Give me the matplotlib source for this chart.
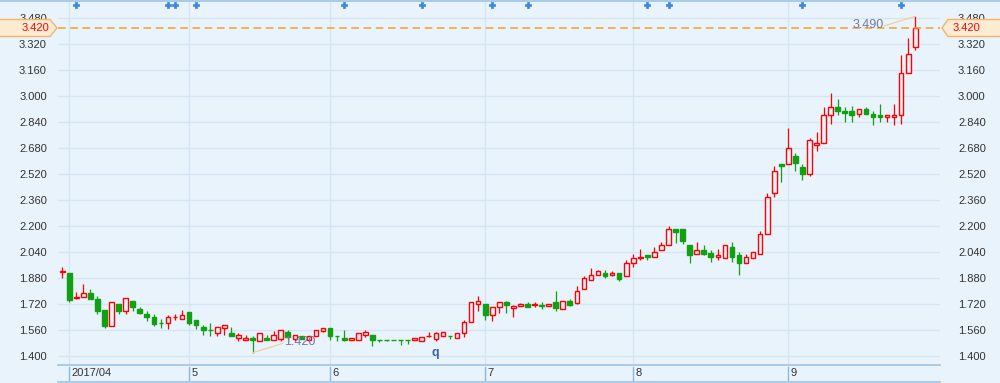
import matplotlib
matplotlib.use('Agg')
import matplotlib.pyplot as plt
from matplotlib.patches import Rectangle, Polygon
from matplotlib.lines import Line2D

# ---------------- data ----------------
opens = [1.918, 1.909, 1.758, 1.765, 1.786, 1.749, 1.681, 1.587, 1.718, 1.679,
         1.736, 1.689, 1.660, 1.640, 1.604, 1.601, 1.639, 1.626, 1.671, 1.620,
         1.578, 1.559, 1.539, 1.570, 1.542, 1.513, 1.496, 1.510, 1.492, 1.513,
         1.498, 1.507, 1.548, 1.507, 1.521, 1.498, 1.523, 1.556, 1.572, 1.523,
         1.511, 1.498, 1.498, 1.527, 1.527, 1.497, 1.497, 1.497, 1.497, 1.497,
         1.496, 1.494, 1.522, 1.507, 1.521, 1.523, 1.509, 1.542, 1.607, 1.718,
         1.720, 1.650, 1.700, 1.732, 1.693, 1.706, 1.720, 1.715, 1.711, 1.708,
         1.730, 1.687, 1.736, 1.728, 1.810, 1.866, 1.899, 1.909, 1.896, 1.909,
         1.890, 1.971, 2.006, 2.023, 2.008, 2.051, 2.082, 2.181, 2.181, 2.085,
         2.028, 2.052, 2.032, 2.009, 2.003, 2.073, 2.022, 1.972, 2.003, 2.028,
         2.151, 2.403, 2.584, 2.582, 2.633, 2.565, 2.519, 2.698, 2.711, 2.883,
         2.932, 2.910, 2.908, 2.891, 2.920, 2.889, 2.885, 2.871, 2.871, 2.883,
         3.142, 3.299]
highs = [1.950, 1.909, 1.796, 1.843, 1.810, 1.769, 1.681, 1.734, 1.718, 1.759,
         1.736, 1.700, 1.679, 1.658, 1.626, 1.650, 1.658, 1.680, 1.671, 1.620,
         1.589, 1.603, 1.576, 1.589, 1.578, 1.539, 1.527, 1.523, 1.539, 1.529,
         1.554, 1.558, 1.558, 1.527, 1.521, 1.521, 1.558, 1.574, 1.572, 1.523,
         1.560, 1.511, 1.539, 1.560, 1.527, 1.497, 1.497, 1.497, 1.497, 1.497,
         1.509, 1.519, 1.550, 1.550, 1.546, 1.523, 1.539, 1.622, 1.730, 1.769,
         1.720, 1.700, 1.730, 1.738, 1.714, 1.728, 1.732, 1.732, 1.730, 1.718,
         1.800, 1.736, 1.751, 1.831, 1.892, 1.942, 1.929, 1.929, 1.923, 1.909,
         1.992, 2.029, 2.059, 2.023, 2.072, 2.101, 2.201, 2.181, 2.181, 2.085,
         2.101, 2.085, 2.052, 2.060, 2.083, 2.104, 2.040, 2.028, 2.040, 2.171,
         2.405, 2.571, 2.584, 2.806, 2.651, 2.584, 2.744, 2.776, 2.934, 3.018,
         2.984, 2.932, 2.940, 2.920, 2.932, 2.910, 2.951, 2.883, 2.951, 3.252,
         3.355, 3.490]
lows = [1.878, 1.734, 1.749, 1.765, 1.749, 1.656, 1.574, 1.587, 1.656, 1.656,
        1.679, 1.656, 1.617, 1.587, 1.574, 1.568, 1.620, 1.626, 1.589, 1.566,
        1.527, 1.523, 1.523, 1.527, 1.523, 1.490, 1.496, 1.420, 1.492, 1.498,
        1.498, 1.494, 1.498, 1.494, 1.505, 1.494, 1.523, 1.548, 1.498, 1.490,
        1.494, 1.498, 1.498, 1.515, 1.464, 1.488, 1.490, 1.496, 1.468, 1.474,
        1.496, 1.494, 1.519, 1.494, 1.521, 1.507, 1.509, 1.519, 1.607, 1.679,
        1.624, 1.617, 1.667, 1.667, 1.642, 1.706, 1.700, 1.700, 1.687, 1.708,
        1.679, 1.687, 1.708, 1.720, 1.810, 1.866, 1.899, 1.878, 1.890, 1.864,
        1.890, 1.945, 1.988, 1.988, 2.008, 2.051, 2.082, 2.098, 2.088, 1.970,
        2.028, 2.020, 1.976, 1.989, 2.003, 1.976, 1.896, 1.972, 2.003, 2.028,
        2.151, 2.378, 2.469, 2.582, 2.536, 2.481, 2.506, 2.660, 2.711, 2.826,
        2.881, 2.842, 2.840, 2.869, 2.891, 2.820, 2.840, 2.840, 2.820, 2.828,
        3.142, 3.281]
closes = [1.920, 1.745, 1.760, 1.786, 1.749, 1.679, 1.585, 1.730, 1.679, 1.759,
          1.703, 1.667, 1.640, 1.599, 1.602, 1.638, 1.641, 1.650, 1.601, 1.589,
          1.558, 1.557, 1.576, 1.589, 1.523, 1.527, 1.511, 1.498, 1.539, 1.498,
          1.527, 1.558, 1.519, 1.527, 1.505, 1.521, 1.558, 1.570, 1.521, 1.522,
          1.496, 1.511, 1.539, 1.546, 1.496, 1.496, 1.496, 1.496, 1.496, 1.496,
          1.509, 1.519, 1.523, 1.539, 1.546, 1.522, 1.539, 1.607, 1.730, 1.736,
          1.650, 1.700, 1.730, 1.716, 1.708, 1.720, 1.700, 1.717, 1.709, 1.718,
          1.697, 1.736, 1.716, 1.798, 1.878, 1.897, 1.923, 1.894, 1.909, 1.874,
          1.971, 2.002, 2.008, 2.007, 2.039, 2.082, 2.181, 2.160, 2.105, 2.019,
          2.052, 2.026, 2.007, 2.024, 2.083, 2.007, 1.970, 2.009, 2.040, 2.151,
          2.378, 2.541, 2.567, 2.680, 2.587, 2.519, 2.729, 2.713, 2.883, 2.932,
          2.906, 2.893, 2.883, 2.920, 2.891, 2.869, 2.869, 2.883, 2.883, 3.142,
          3.258, 3.420]

month_labels = ['2017/04', '5', '6', '7', '8', '9']
month_starts = [1, 18, 38, 60, 81, 103]
event_idx = [2, 15, 16, 19, 40, 51, 61, 66, 83, 86, 105, 119]
q_idx = [53]
ytick_values = [1.400, 1.560, 1.720, 1.880, 2.040, 2.200, 2.360, 2.520,
                2.680, 2.840, 3.000, 3.160, 3.320, 3.480]
last_price = 3.420
low_idx, low_label = 27, '1.420'
high_idx, high_label = 121, '3.490'

# ---------------- style ----------------
BG = '#e8f3fc'
GRID = '#d5e5f4'
AXLINE = '#a3c8ea'
RED = '#ff0000'
GREEN = '#11a011'
TXT = '#333333'
plt.rcParams['font.family'] = ['Liberation Sans', 'DejaVu Sans']

W, H = 1000, 383
fig = plt.figure(figsize=(W / 100, H / 100), dpi=100)
fig.patch.set_facecolor(BG)

def fx(px):
    return px / W

def fy(py):
    return 1 - py / H

ax_l, ax_r, ax_t, ax_b = 58, 940, 2, 364
ax = fig.add_axes([fx(ax_l), fy(ax_b), fx(ax_r - ax_l), (ax_b - ax_t) / H])
ax.set_facecolor(BG)
n = len(closes)
x0_px, step_px = 62.2, 7.05
ax.set_xlim((ax_l - x0_px) / step_px, (ax_r - x0_px) / step_px)
ppu = 162.5
y0_px = 356.0
ax.set_ylim(1.4 - (ax_b - y0_px) / ppu, 1.4 + (y0_px - ax_t) / ppu)
for s in ax.spines.values():
    s.set_visible(False)

# grid
for v in ytick_values:
    ax.axhline(v, color=GRID, lw=1, zorder=0)
for m in month_starts:
    ax.axvline(m, color=GRID, lw=1, zorder=0)

# candles
bw = 0.66
for i in range(n):
    o, h, l, c = opens[i], highs[i], lows[i], closes[i]
    up = c >= o
    col = RED if up else GREEN
    ax.vlines(i, l, h, colors=col, lw=0.9, zorder=2)
    bot = min(o, c)
    ht = max(abs(c - o), 0.001)
    ax.add_patch(Rectangle((i - bw / 2, bot), bw, ht,
                           facecolor=BG if up else GREEN,
                           edgecolor=col, lw=1.0, zorder=3))

# last price dashed line
ax.axhline(last_price, color='#f0a02c', lw=1.1, ls=(0, (5, 3)), zorder=4)

# low / high annotations
ax.plot([low_idx, 31.3], [lows[low_idx], 1.478], color='#f6cf9c', lw=0.9, zorder=5)
ax.text(31.4, 1.487, low_label, fontsize=9, color='#77779a', ha='left', va='center', zorder=6)
ax.plot([high_idx, 116.6], [highs[high_idx], 3.432], color='#f6cf9c', lw=0.9, zorder=5)
ax.text(116.5, 3.435, high_label, fontsize=9, color='#77779a', ha='right', va='center', zorder=6)

# event markers on top
ax.plot(event_idx, [0.991] * len(event_idx), ls='none', marker='P', ms=3.8,
        color='#3a86e0', mec='#3a86e0', mew=0.5, transform=ax.get_xaxis_transform(),
        clip_on=False, zorder=6)
for q in q_idx:
    ax.text(q - 0.1, 0.030, 'q', fontsize=9, fontweight='bold', color='#3a64a8',
            ha='center', va='center', transform=ax.get_xaxis_transform())

# y tick labels
ax.set_yticks(ytick_values)
ax.set_yticklabels([f'{v:.3f}' for v in ytick_values])
ax.tick_params(axis='y', length=0, pad=8, labelsize=8, labelcolor=TXT)
ax.set_xticks([])
ax2 = ax.twinx()
ax2.set_ylim(ax.get_ylim())
ax2.set_yticks(ytick_values)
ax2.set_yticklabels([f'{v:.3f}' for v in ytick_values])
ax2.tick_params(axis='y', length=0, pad=13, labelsize=8, labelcolor=TXT)
for s in ax2.spines.values():
    s.set_visible(False)

# x axis strip
fig.add_artist(Line2D([fx(ax_l), fx(ax_r)], [fy(364.5)] * 2, color=AXLINE, lw=1.3))
fig.add_artist(Line2D([fx(ax_l), fx(ax_r)], [fy(381.8)] * 2, color=AXLINE, lw=1.3))
fig.add_artist(Line2D([0, 1], [fy(0.6)] * 2, color=AXLINE, lw=1.3))
for m, lab in zip(month_starts, month_labels):
    px = x0_px + step_px * m
    fig.add_artist(Line2D([fx(px)] * 2, [fy(367), fy(380)], color='#8db6e0', lw=1))
    fig.text(fx(px + 2), fy(373.5), lab, fontsize=8, color=TXT, ha='left', va='center')

# price tags
def tag(points, fc='#fdebd2', ec='#f3b46a'):
    poly = Polygon([(fx(a), fy(b)) for a, b in points], closed=True,
                   facecolor=fc, edgecolor=ec, lw=1, transform=fig.transFigure)
    fig.add_artist(poly)

tag([(-1, 19.5), (50, 19.5), (57, 28), (50, 36.5), (-1, 36.5)])
fig.text(fx(49), fy(28.3), f'{last_price:.3f}', fontsize=8, color=RED, ha='right', va='center')
tag([(1001, 19.5), (948, 19.5), (942, 28), (948, 36.5), (1001, 36.5)])
fig.text(fx(953), fy(28.3), f'{last_price:.3f}', fontsize=8, color=RED, ha='left', va='center')

fig.savefig('out.png', dpi=100, facecolor=BG)
